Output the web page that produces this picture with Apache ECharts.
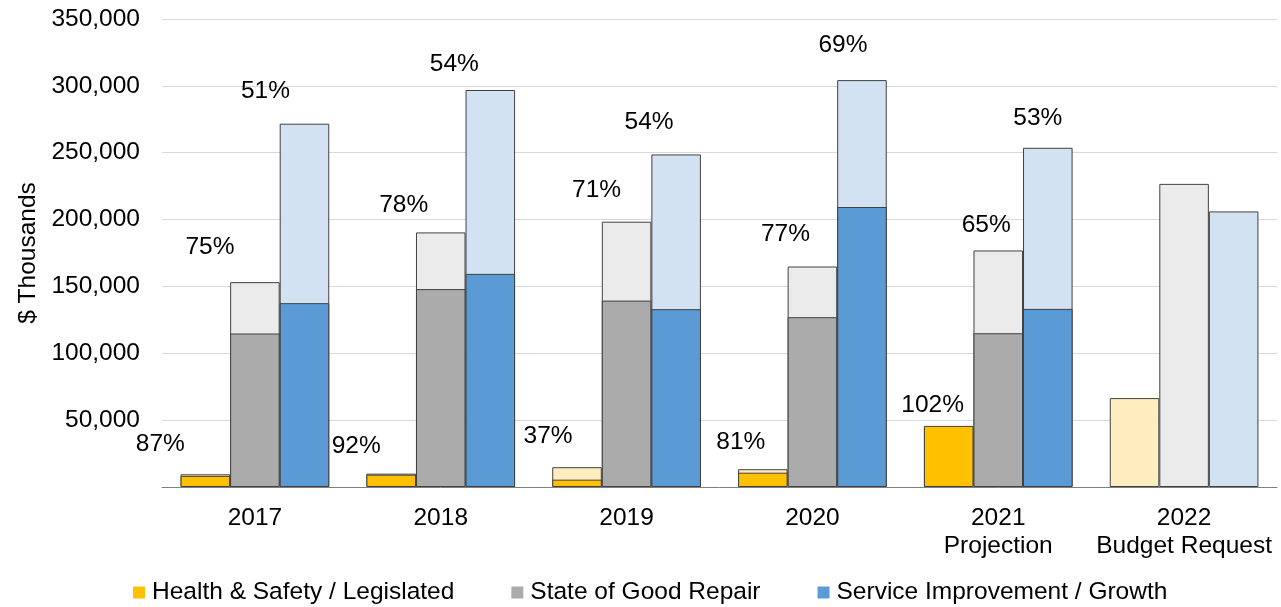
<!DOCTYPE html>
<html>
<head>
<meta charset="utf-8">
<script src="https://cdn.jsdelivr.net/npm/echarts@6/dist/echarts.min.js"></script>
<style>
html,body{margin:0;padding:0;background:#fff;}
#chart{width:1281px;height:607px;}
</style>
</head>
<body>
<div id="chart"></div>
<script>
// ---- data ----
var categories = ['2017', '2018', '2019', '2020', '2021\nProjection', '2022\nBudget Request'];
var hsBudget = [9500, 10000, 14800, 13300, 44800, 66500];
var hsActual = [8300, 9200, 5500, 10700, 45700, null];
var sgBudget = [153200, 190400, 198400, 164900, 176900, 226700];
var sgActual = [114800, 148000, 139400, 127000, 115000, null];
var siBudget = [271700, 296900, 248700, 304300, 253700, 206100];
var siActual = [137500, 159400, 133000, 209400, 133200, null];
var hsPct = ['87%', '92%', '37%', '81%', '102%', null];
var sgPct = ['75%', '78%', '71%', '77%', '65%', null];
var siPct = ['51%', '54%', '54%', '69%', '53%', null];
var seriesNames = ['Health & Safety / Legislated', 'State of Good Repair', 'Service Improvement / Growth'];

// ---- label placement (styling) ----
var hsLabelDx = [-45, -35, -29, -22, -16, 0];
var hsLabelDy = [-30, -27, -31, -27, -22, 0];
var sgLabelDx = [-45, -37, -30, -27, -12, 0];
var sgLabelDy = [-35, -27, -31, -32, -25, 0];
var siLabelDx = [-39, -36, -27, -19, -10, 0];
var siLabelDy = [-32, -26, -32, -35, -30, 0];

var FONT = "'Liberation Sans', Arial, sans-serif";
var FS = 24.5;
var border = '#404040';

function budgetData(vals, pcts, dx, dy) {
  return vals.map(function (v, i) {
    var hasLabel = pcts[i] != null;
    return {
      value: v,
      label: {
        show: hasLabel,
        formatter: hasLabel ? pcts[i] : '',
        position: 'top',
        distance: 0,
        verticalAlign: 'middle',
        align: 'center',
        offset: [dx[i], dy[i]],
        fontSize: FS,
        fontFamily: FONT,
        color: '#000'
      }
    };
  });
}

function budgetSeries(name, vals, color, pcts, dx, dy) {
  return {
    name: name,
    type: 'bar',
    xAxisIndex: 0,
    barGap: '0%',
    barCategoryGap: '20%',
    itemStyle: { color: color, borderColor: border, borderWidth: 1 },
    emphasis: { disabled: true },
    data: budgetData(vals, pcts, dx, dy),
    z: 2
  };
}
function actualSeries(name, vals, color) {
  return {
    name: name,
    type: 'bar',
    xAxisIndex: 1,
    barGap: '0%',
    barCategoryGap: '20%',
    itemStyle: { color: color, borderColor: border, borderWidth: 1 },
    emphasis: { disabled: true },
    data: vals,
    z: 3
  };
}

var chart = echarts.init(document.getElementById('chart'), null, { renderer: 'canvas' });
chart.setOption({
  animation: false,
  backgroundColor: '#fff',
  textStyle: { fontFamily: FONT },
  grid: { left: 162, right: 4, top: 19, bottom: 120, containLabel: false },
  legend: {
    data: seriesNames,
    left: 128,
    top: 575,
    icon: 'rect',
    itemWidth: 12,
    itemHeight: 12,
    itemGap: 57,
    itemStyle: { borderWidth: 0 },
    textStyle: { fontSize: FS, fontFamily: FONT, color: '#000', padding: [0, 0, 0, 2] },
    selectedMode: false
  },
  xAxis: [
    {
      type: 'category',
      data: categories,
      axisLine: { lineStyle: { color: '#808080', width: 1 } },
      axisTick: { show: false },
      axisLabel: { fontSize: FS, fontFamily: FONT, color: '#000', margin: 17, lineHeight: 28, interval: 0 }
    },
    {
      type: 'category',
      data: categories,
      show: false
    }
  ],
  yAxis: {
    type: 'value',
    min: 0,
    max: 350000,
    interval: 50000,
    name: '$ Thousands',
    nameLocation: 'middle',
    nameGap: 107,
    nameTextStyle: { fontSize: FS, fontFamily: FONT, color: '#000' },
    axisLine: { show: false },
    axisTick: { show: false },
    splitLine: { lineStyle: { color: '#D9D9D9', width: 1 } },
    axisLabel: {
      fontSize: FS, fontFamily: FONT, color: '#000', margin: 22,
      formatter: function (v) { return v === 0 ? '' : v.toLocaleString('en-US'); }
    }
  },
  series: [
    budgetSeries(seriesNames[0] + ' Budget', hsBudget, '#FFEDC0', hsPct, hsLabelDx, hsLabelDy),
    budgetSeries(seriesNames[1] + ' Budget', sgBudget, '#EBEBEB', sgPct, sgLabelDx, sgLabelDy),
    budgetSeries(seriesNames[2] + ' Budget', siBudget, '#D3E2F2', siPct, siLabelDx, siLabelDy),
    actualSeries(seriesNames[0], hsActual, '#FFC000'),
    actualSeries(seriesNames[1], sgActual, '#ABABAB'),
    actualSeries(seriesNames[2], siActual, '#5B9BD5')
  ]
});
</script>
</body>
</html>
